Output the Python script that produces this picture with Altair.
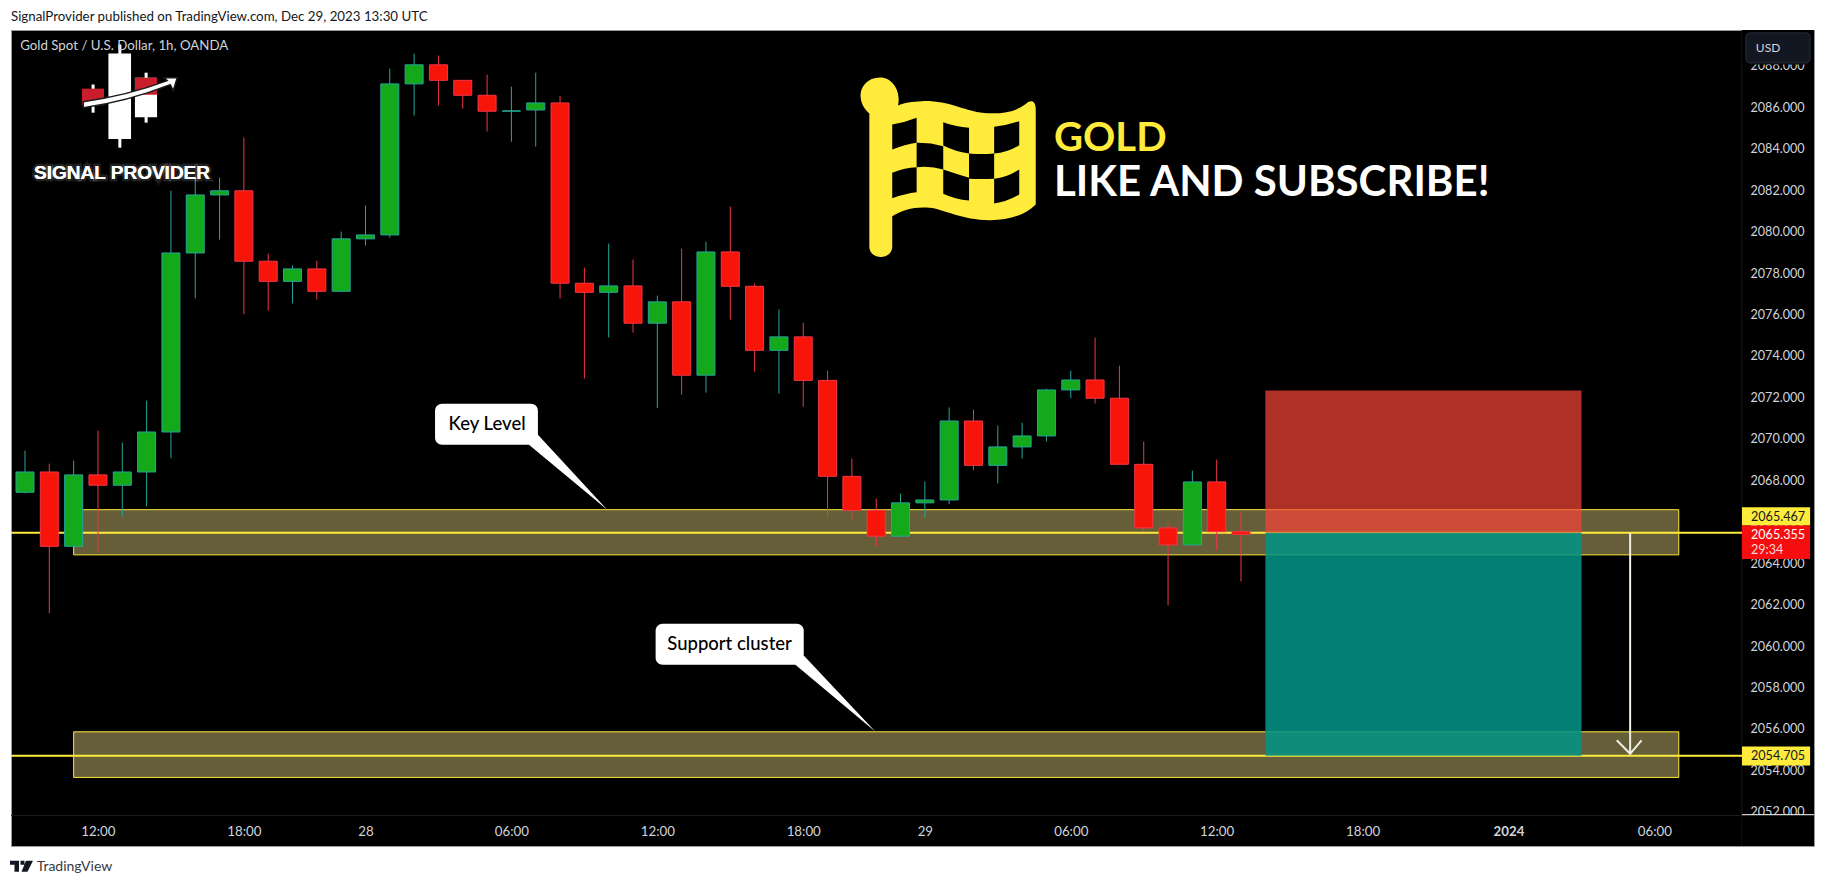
import altair as alt
import pandas as pd

# ---- OHLC (1h bars, bar index) ----
opens = [2067.42,2068.40,2064.81,2068.26,2067.76,2068.40,2070.33,2078.97,2081.77,2081.97,2078.57,2077.60,2078.20,2077.12,2079.65,2079.84,2087.13,2088.05,2087.30,2086.58,2085.81,2085.87,2086.21,2077.51,2077.07,2077.38,2075.58,2076.61,2073.07,2079.02,2077.36,2074.27,2074.92,2072.82,2068.19,2066.55,2065.30,2066.91,2067.05,2070.86,2068.72,2069.61,2070.14,2072.36,2072.84,2071.96,2068.77,2065.70,2064.88,2067.92,2065.52]
highs = [2069.43,2068.80,2068.95,2070.40,2069.82,2071.84,2081.98,2082.61,2082.61,2084.54,2078.94,2078.36,2078.60,2080.00,2081.26,2087.87,2088.59,2088.50,2087.30,2087.58,2087.00,2087.67,2086.56,2078.26,2079.42,2078.65,2076.91,2079.18,2079.52,2081.21,2077.49,2076.24,2075.61,2073.29,2069.05,2067.11,2067.36,2067.94,2071.51,2071.41,2070.64,2070.78,2072.42,2073.29,2074.89,2073.53,2069.87,2065.91,2068.47,2069.00,2066.44]
lows = [2067.37,2061.58,2064.81,2064.49,2066.26,2066.74,2069.06,2076.78,2079.61,2076.01,2076.19,2076.54,2076.72,2077.12,2079.33,2079.71,2085.60,2086.08,2085.94,2084.83,2084.34,2084.10,2076.77,2072.91,2074.89,2075.13,2071.48,2072.13,2072.23,2075.75,2073.24,2072.18,2071.55,2066.16,2066.10,2064.81,2065.30,2066.20,2066.84,2068.48,2067.85,2069.05,2069.87,2071.96,2071.70,2068.77,2065.52,2061.97,2064.88,2064.62,2063.12]
closes = [2068.40,2064.81,2068.26,2067.76,2068.40,2070.33,2078.97,2081.77,2081.97,2078.57,2077.60,2078.20,2077.12,2079.65,2079.84,2087.13,2088.05,2087.30,2086.58,2085.81,2085.83,2086.21,2077.51,2077.07,2077.38,2075.58,2076.61,2073.07,2079.02,2077.36,2074.27,2074.92,2072.82,2068.19,2066.55,2065.30,2066.91,2067.05,2070.86,2068.72,2069.61,2070.14,2072.36,2072.84,2071.96,2068.77,2065.70,2064.88,2067.92,2065.52,2065.39]

x_ticks = [3, 9, 14, 20, 26, 32, 37, 43, 49, 55, 61, 67]
x_labels = ["12:00", "18:00", "28", "06:00", "12:00", "18:00", "29", "06:00", "12:00", "18:00", "2024", "06:00"]
y_ticks = list(range(2052, 2090, 2))

entry_level = 2065.467
target_level = 2054.705
stop_level = 2072.33
zones = [(2, 68, 2064.40, 2066.58), (2, 68, 2053.66, 2055.86)]

X_MIN, X_MAX = -0.5757, 73.56
Y_MIN, Y_MAX = 2050.35, 2089.73
AXIS_X = 70.6

UI_FONT = "Lato"
YELLOW = "#ffeb3b"

x_axis = alt.Axis(
    values=x_ticks, title=None, grid=False, domain=False, ticks=False, offset=-30,
    labelPadding=8, labelFont=UI_FONT, labelFontSize=13.3, labelColor="#d1d4dc",
    labelExpr=f"{x_labels}[indexof({x_ticks}, datum.value)]",
    labelFontWeight=alt.expr("datum.value == 61 ? 'bold' : 'normal'"),
)
y_axis = alt.Axis(
    values=y_ticks, orient="right", title=None, grid=False, domain=False, ticks=False,
    offset=-(1814 - 1742), labelPadding=8, format=".3f", labelFont=UI_FONT,
    labelFontSize=12.6, labelColor="#d1d4dc",
)

xs = alt.Scale(domain=[X_MIN, X_MAX], nice=False, zero=False, padding=0)
ys = alt.Scale(domain=[Y_MIN, Y_MAX], nice=False, zero=False, padding=0)


def X(field):
    return alt.X(field, scale=xs, axis=x_axis)


def Y(field):
    return alt.Y(field, scale=ys, axis=y_axis)


def rects(rows, **mark):
    df = pd.DataFrame(rows, columns=["a", "b", "p", "q"])
    return alt.Chart(df).mark_rect(**mark).encode(x=X("a:Q"), x2="b:Q", y=Y("p:Q"), y2="q:Q")


def hrule(rows, **mark):
    df = pd.DataFrame(rows, columns=["a", "b", "p"])
    return alt.Chart(df).mark_rule(**mark).encode(x=X("a:Q"), x2="b:Q", y=Y("p:Q"))


def vrule(rows, **mark):
    df = pd.DataFrame(rows, columns=["a", "p", "q"])
    return alt.Chart(df).mark_rule(**mark).encode(x=X("a:Q"), y=Y("p:Q"), y2="q:Q")


def label(i, p, text, **mark):
    df = pd.DataFrame({"i": [i], "p": [p], "t": [text]})
    mark.setdefault("baseline", "middle")
    return alt.Chart(df).mark_text(**mark).encode(x=X("i:Q"), y=Y("p:Q"), text="t:N")


def glyph(i, p, path, **mark):
    df = pd.DataFrame({"i": [i], "p": [p]})
    mark.setdefault("opacity", 1)
    return alt.Chart(df).mark_point(shape=path, size=40000, filled=True, **mark).encode(x=X("i:Q"), y=Y("p:Q"))


candles = pd.DataFrame({"i": range(len(opens)), "o": opens, "h": highs, "l": lows, "c": closes})
candles["dir"] = ["up" if c >= o else "down" for o, c in zip(opens, closes)]

edge = alt.Scale(domain=["up", "down"], range=["#26a69a", "#f23645"])
body = alt.Scale(domain=["up", "down"], range=["#13a91a", "#f7150a"])

wicks = alt.Chart(candles).mark_rule(strokeWidth=1).encode(
    x=X("i:Q"), y=Y("l:Q"), y2="h:Q",
    stroke=alt.Stroke("dir:N", scale=edge, legend=None),
)
bodies = alt.Chart(candles).mark_bar(size=18, strokeWidth=1).encode(
    x=X("i:Q"), y=Y("o:Q"), y2="c:Q",
    fill=alt.Fill("dir:N", scale=body, legend=None),
    stroke=alt.Stroke("dir:N", scale=edge, legend=None),
)

FLAG = ("M-0.757 0.77 C-0.757 0.91 -0.528 0.91 -0.528 0.77 L-0.528 0.467 "
        "C-0.42 0.40 -0.30 0.37 -0.155 0.383 C-0.02 0.395 0.18 0.51 0.455 0.507 "
        "C0.63 0.505 0.80 0.46 0.907 0.35 L0.907 -0.60 C0.907 -0.70 0.85 -0.70 0.80 -0.65 "
        "C0.68 -0.56 0.52 -0.55 0.35 -0.57 C0.18 -0.59 0.04 -0.69 -0.23 -0.683 "
        "C-0.33 -0.68 -0.41 -0.67 -0.47 -0.64 C-0.44 -0.78 -0.52 -0.92 -0.65 -0.92 "
        "C-0.78 -0.92 -0.85 -0.82 -0.845 -0.73 C-0.84 -0.65 -0.80 -0.60 -0.757 -0.56 Z")
CELLS = ("M-0.528 -0.45 Q-0.4 -0.47 -0.284 -0.517 L-0.284 -0.267 Q-0.4 -0.25 -0.528 -0.2 Z "
         "M-0.018 -0.473 Q0.1 -0.43 0.24 -0.417 L0.24 -0.16 Q0.1 -0.18 -0.018 -0.24 Z "
         "M0.491 -0.427 Q0.62 -0.44 0.742 -0.483 L0.742 -0.243 Q0.62 -0.17 0.491 -0.16 Z "
         "M-0.284 -0.267 Q-0.15 -0.27 -0.018 -0.233 L-0.018 0 Q-0.15 -0.04 -0.284 -0.023 Z "
         "M0.24 -0.16 Q0.36 -0.15 0.491 -0.16 L0.491 0.093 Q0.36 0.10 0.24 0.093 Z "
         "M-0.528 0.033 Q-0.4 -0.02 -0.284 -0.023 L-0.284 0.227 Q-0.4 0.24 -0.528 0.287 Z "
         "M-0.018 0 Q0.1 0.04 0.24 0.083 L0.24 0.31 Q0.1 0.30 -0.018 0.243 Z "
         "M0.491 0.093 Q0.62 0.08 0.742 0 L0.742 0.25 Q0.62 0.32 0.491 0.34 Z")
SWOOSH = ("M-0.94 0.24 Q-0.5 0.18 -0.10 0.03 L-0.13 0 L0 0 L-0.04 0.13 L-0.07 0.07 "
          "Q-0.5 0.24 -0.94 0.30 Z")
KEY_TAIL = "M-0.783 -0.65 L-0.693 -0.75 L0 0 Z"
SUPPORT_TAIL = "M-0.804 -0.673 L-0.717 -0.763 L0 0 Z"
TV_LOGO = ("M-0.115 -0.05 L-0.025 -0.05 L-0.025 0.06 L-0.07 0.06 L-0.07 -0.01 L-0.115 -0.01 Z "
           "M-0.01 -0.05 L0.03 -0.05 L0.03 -0.01 L-0.01 -0.01 Z "
           "M0.045 -0.05 L0.115 -0.05 L0.06 0.06 L0.0 0.06 Z")

layers = [
    vrule([(AXIS_X, Y_MIN, Y_MAX)], color="#1c1c1c", strokeWidth=1),
    hrule([(X_MIN, AXIS_X, 2051.82)], color="#1c1c1c", strokeWidth=1),
    # zones and level lines
    rects(zones, fill="#ffec8c", fillOpacity=0.4, stroke=YELLOW, strokeWidth=1),
    hrule([(X_MIN, AXIS_X, entry_level), (X_MIN, AXIS_X, target_level)], color=YELLOW, strokeWidth=2),
    wicks,
    bodies,
    # position tool
    rects([(51, 64, entry_level, stop_level)], fill="#f64437", fillOpacity=0.71),
    rects([(51, 64, target_level, entry_level)], fill="#029384", fillOpacity=0.87),
    # arrow
    vrule([(66, entry_level, 2054.8)], color="#f0f0e4", strokeWidth=2),
    alt.Chart(pd.DataFrame({"i": [65.45, 66, 66.47], "p": [2055.45, 2054.8, 2055.45]}))
    .mark_line(color="#f0f0e4", strokeWidth=2)
    .encode(x=X("i:Q"), y=Y("p:Q")),
    # callouts
    rects([(16.86, 21.09, 2069.72, 2071.69)], fill="#ffffff", cornerRadius=7),
    glyph(23.94, 2066.58, KEY_TAIL, color="#ffffff"),
    label(19.0, 2070.73, "Key Level", font=UI_FONT, fontSize=18.5, fontWeight=500, color="#000000"),
    rects([(25.93, 32.02, 2059.10, 2061.07)], fill="#ffffff", cornerRadius=7),
    glyph(34.97, 2055.86, SUPPORT_TAIL, color="#ffffff"),
    label(28.97, 2060.10, "Support cluster", font=UI_FONT, fontSize=18.5, fontWeight=500, color="#000000"),
    # logo
    vrule([(3.9, 2084.05, 2089.03), (4.98, 2085.26, 2087.67), (2.8, 2085.74, 2087.1)],
          color="#ffffff", strokeWidth=3),
    rects([(3.43, 4.36, 2084.47, 2088.59), (4.52, 5.43, 2085.52, 2087.43)], fill="#ffffff"),
    rects([(4.52, 5.43, 2086.6, 2087.43), (2.34, 3.25, 2086.1, 2086.9)], fill="#c81e2c"),
    glyph(6.26, 2087.43, SWOOSH, color="#ffffff", stroke="#1a1a1a", strokeWidth=1.5),
    label(3.99, 2082.85, "SIGNAL PROVIDER", font="Liberation Sans", fontSize=19, fontWeight="bold",
          color="#ffffff", stroke="#ffffff", strokeOpacity=0.15, strokeWidth=5),
    label(3.99, 2082.85, "SIGNAL PROVIDER", font="Liberation Sans", fontSize=19, fontWeight="bold",
          color="#ffffff"),
    # flag and headline
    glyph(37.83, 2083.0, FLAG, color=YELLOW),
    glyph(37.83, 2083.0, CELLS, color="#000000"),
    label(42.31, 2084.48, "GOLD", align="left", font=UI_FONT, fontSize=40, fontWeight="bold", color=YELLOW),
    label(42.31, 2082.37, "LIKE AND SUBSCRIBE!", align="left", font=UI_FONT, fontSize=42, fontWeight="bold",
          color="#ffffff"),
    label(-0.2, 2088.94, "Gold Spot / U.S. Dollar, 1h, OANDA", align="left", font=UI_FONT, fontSize=13.3,
          color="#d1d4dc"),
    # price scale furniture
    rects([(AXIS_X, X_MAX, 2088.06, Y_MAX), (AXIS_X, X_MAX, Y_MIN, 2051.86)], fill="#000000"),
    hrule([(AXIS_X, X_MAX, 2051.86)], color="#ffffff", strokeWidth=1),
    rects([(70.76, 73.40, 2088.14, 2089.59)], fill="#131722", stroke="#2a2e39", cornerRadius=4),
    label(71.17, 2088.87, "USD", align="left", font=UI_FONT, fontSize=12, color="#d1d4dc"),
    rects([(AXIS_X, 73.4, 2065.82, 2066.70), (AXIS_X, 73.4, 2054.23, 2055.15)], fill=YELLOW),
    rects([(AXIS_X, 73.4, 2064.20, 2065.82)], fill="#f60d0d"),
    label(70.97, 2066.23, "2065.467", align="left", font=UI_FONT, fontSize=12.6, color="#131722"),
    label(70.97, 2065.36, "2065.355", align="left", font=UI_FONT, fontSize=12.6, color="#ffffff"),
    label(70.97, 2064.62, "29:34", align="left", font=UI_FONT, fontSize=12.6, color="#ffd6d6"),
    label(70.97, 2054.68, "2054.705", align="left", font=UI_FONT, fontSize=12.6, color="#131722"),
    # footer
    glyph(-0.144, 2049.4, TV_LOGO, color="#131722"),
    label(0.48, 2049.35, "TradingView", align="left", font=UI_FONT, fontSize=14, color="#363a45"),
]

chart = alt.layer(*layers).resolve_scale(x="shared", y="shared").properties(
    width=1803, height=816,
    title=alt.TitleParams(
        "SignalProvider published on TradingView.com, Dec 29, 2023 13:30 UTC",
        anchor="start", frame="group", font=UI_FONT, fontSize=13.3, fontWeight="normal",
        color="#131722", offset=6,
    ),
    autosize=alt.AutoSizeParams(type="none"),
    padding={"left": 3, "top": 22, "right": 3, "bottom": 30},
    background="#ffffff",
).configure_view(fill="#000000", stroke="#9598a1", strokeWidth=1)

chart.save("out.html", embed_options={"renderer": "svg", "actions": False})
